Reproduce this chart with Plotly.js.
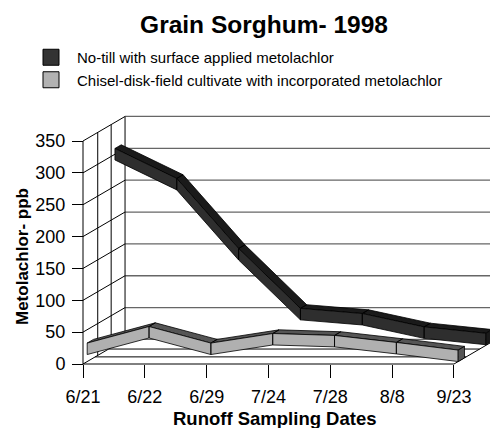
<!DOCTYPE html>
<html>
<head>
<meta charset="utf-8">
<title>Grain Sorghum- 1998</title>
<style>
    html, body, #plot {
        width: 100%;
        height: 100%;
        margin: 0;
        padding: 0;
        overflow: hidden;
        background: #fff;
    }
</style>
<script src="https://cdn.plot.ly/plotly-3.0.1.min.js"></script>
</head>
<body>
<div id="plot"></div>
<script>
    const dates = ['6/21', '6/22', '6/29', '7/24', '7/28', '8/8', '9/23'];
    const noTill = [309, 262, 152, 58, 50, 29, 19];
    const chisel = [29, 55, 29, 44, 41, 30, 18];
    const yTicks = [0, 50, 100, 150, 200, 250, 300, 350];

    const FONT = 'Liberation Sans, Arial, sans-serif';

    // fake 3D box: the depth axis goes up and to the right
    const DX = 0.68;   // full depth, in category units
    const DY = 38.5;   // full depth, in ppb units
    const THICK = 18;  // height of a ribbon's front face
    const DEPTH = 0.15; // ribbon depth (fraction of the box)

    const xs = dates.map(function (d, i) { return i; });
    const xLast = xs[xs.length - 1];
    const yTop = yTicks[yTicks.length - 1];

    function proj(x, y, f) {
        return [x + f * DX, y + f * DY];
    }

    function addPoly(o, pts) {
        pts.forEach(function (p) { o.x.push(p[0]); o.y.push(p[1]); });
        o.x.push(pts[0][0], null);
        o.y.push(pts[0][1], null);
    }

    function ribbon(vals, f, frontColor, topColor) {
        const front = {x: [], y: []}, lid = {x: [], y: []}, cap = {x: [], y: []};
        for (let i = 0; i < vals.length - 1; i++) {
            const a = vals[i], b = vals[i + 1];
            addPoly(lid, [proj(xs[i], a, f), proj(xs[i + 1], b, f),
                proj(xs[i + 1], b, f + DEPTH), proj(xs[i], a, f + DEPTH)]);
            addPoly(front, [proj(xs[i], a, f), proj(xs[i + 1], b, f),
                proj(xs[i + 1], b - THICK, f), proj(xs[i], a - THICK, f)]);
        }
        const v = vals[vals.length - 1];
        addPoly(cap, [proj(xLast, v, f), proj(xLast, v, f + DEPTH),
            proj(xLast, v - THICK, f + DEPTH), proj(xLast, v - THICK, f)]);
        return [[lid, topColor], [front, frontColor], [cap, topColor]].map(function (p) {
            return {
                x: p[0].x, y: p[0].y, type: 'scatter', mode: 'lines',
                fill: 'toself', fillcolor: p[1],
                line: {color: '#000', width: 0.8},
                hoverinfo: 'skip', showlegend: false
            };
        });
    }

    const data = [].concat(
        ribbon(noTill, 0.76, '#2e2e2e', '#1a1a1a'),
        ribbon(chisel, 0.1, '#b0b0b0', '#555555'),
        [
            {x: [null], y: [null], type: 'scatter', mode: 'markers', name: 'No-till with surface applied metolachlor',
                marker: {symbol: 'square', size: 16, color: '#333333', line: {color: '#000', width: 1}}},
            {x: [null], y: [null], type: 'scatter', mode: 'markers', name: 'Chisel-disk-field cultivate with incorporated metolachlor',
                marker: {symbol: 'square', size: 16, color: '#b2b2b2', line: {color: '#000', width: 1}}}
        ]
    );

    // box frame: left wall, back wall, floor
    const shapes = [];
    function seg(x0, y0, x1, y1, color, width) {
        shapes.push({type: 'line', xref: 'x', yref: 'y', x0: x0, y0: y0, x1: x1, y1: y1, layer: 'below',
            line: {color: color, width: width}});
    }
    yTicks.forEach(function (v) {
        seg(DX, v + DY, xLast + DX + 1, v + DY, '#666', 1.3);
        seg(0, v, DX, v + DY, '#000', 1);
    });
    [0.35, 0.67].forEach(function (f) {
        seg(f * DX, f * DY, f * DX, yTop + f * DY, '#000', 1);
    });
    [0.29, 0.61].forEach(function (f) {
        seg(f * DX, f * DY, xLast + f * DX, f * DY, '#000', 1);
    });
    seg(DX, DY, DX, yTop + DY, '#000', 1);
    seg(0, 0, 0, yTop, '#000', 1);
    seg(0, 0, xLast, 0, '#000', 1);
    seg(xLast, 0, xLast + DX, DY, '#000', 1);

    // pixel scale of the reference: 61.83 px per date, 223 px per 350 ppb
    const W = 490, H = 428;
    const M = {l: 80, r: 0, t: 103, b: 62};
    const kx = 61.83, ky = 223 / 350;
    const x0 = -(83 - M.l) / kx, x1 = x0 + (W - M.l - M.r) / kx;
    const y0 = -(H - M.b - 364) / ky, y1 = y0 + (H - M.t - M.b) / ky;

    const layout = {
        width: W,
        height: H,
        margin: M,
        paper_bgcolor: '#fff',
        plot_bgcolor: 'rgba(0,0,0,0)',
        font: {family: FONT, color: '#000'},
        title: {
            text: 'Grain Sorghum- 1998',
            font: {family: FONT, size: 24.5, weight: 'bold', color: '#000'},
            xref: 'container', x: 264 / W, xanchor: 'center',
            yref: 'container', y: 1 - 24 / H, yanchor: 'middle'
        },
        xaxis: {
            range: [x0, x1],
            anchor: 'free',
            position: (0 - y0) / (y1 - y0),
            tickvals: xs,
            ticktext: dates,
            ticks: 'outside', ticklen: 13, tickwidth: 1, tickcolor: '#000',
            ticklabelstandoff: 3,
            tickfont: {family: FONT, size: 18, color: '#000'},
            showgrid: false, zeroline: false, showline: false, fixedrange: true
        },
        yaxis: {
            range: [y0, y1],
            anchor: 'free',
            position: (0 - x0) / (x1 - x0),
            tickvals: yTicks,
            ticks: 'outside', ticklen: 11, tickwidth: 1, tickcolor: '#000',
            ticklabelstandoff: 3,
            tickfont: {family: FONT, size: 18, color: '#000'},
            showgrid: false, zeroline: false, showline: false, fixedrange: true
        },
        shapes: shapes,
        annotations: [
            {text: 'Runoff Sampling Dates', showarrow: false, xref: 'paper', yref: 'paper',
                x: (275 - M.l) / (W - M.l), y: (H - M.b - 418) / (H - M.t - M.b),
                xanchor: 'center', yanchor: 'middle',
                font: {family: FONT, size: 18.5, weight: 'bold', color: '#000'}},
            {text: 'Metolachlor- ppb', showarrow: false, xref: 'paper', yref: 'paper', textangle: -90,
                x: (22 - M.l) / (W - M.l), y: (H - M.b - 257) / (H - M.t - M.b),
                xanchor: 'center', yanchor: 'middle',
                font: {family: FONT, size: 17, weight: 'bold', color: '#000'}}
        ],
        showlegend: true,
        legend: {
            x: (25 - M.l) / (W - M.l), xanchor: 'left',
            y: (H - M.b - 41) / (H - M.t - M.b), yanchor: 'top',
            itemwidth: 42,
            font: {family: FONT, size: 15, color: '#000'},
            bgcolor: 'rgba(0,0,0,0)'
        },
        hovermode: false
    };

    Plotly.newPlot('plot', data, layout, {displayModeBar: false, staticPlot: true});
</script>
</body>
</html>
